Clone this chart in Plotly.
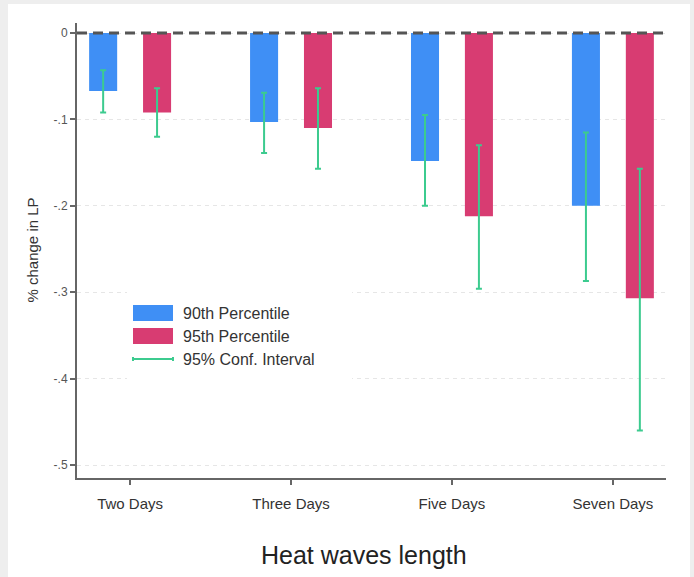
import plotly.graph_objects as go

# Heat-wave length categories
categories = ["Two Days", "Three Days", "Five Days", "Seven Days"]

# Point estimates (% change in LP)
p90_values = [-0.067, -0.103, -0.148, -0.200]
p95_values = [-0.092, -0.110, -0.212, -0.307]

# 95% confidence interval bounds
p90_ci_high = [-0.043, -0.069, -0.095, -0.115]
p90_ci_low = [-0.092, -0.139, -0.200, -0.287]
p95_ci_high = [-0.064, -0.064, -0.130, -0.157]
p95_ci_low = [-0.120, -0.157, -0.296, -0.460]

# Y-axis ticks
y_tickvals = [0, -0.1, -0.2, -0.3, -0.4, -0.5]
y_ticktext = ["0", "-.1", "-.2", "-.3", "-.4", "-.5"]

BLUE = "#3f8ff5"
RED = "#d83c72"
GREEN = "#3ccb8f"
FONT = "Liberation Sans, Arial, sans-serif"

W, H = 694, 577
ML, MR, MT, MB = 77, 28, 23, 99
PW, PH = W - ML - MR, H - MT - MB


def px_x(px):
    return (px - ML) / PW


def px_y(py):
    return (H - MB - py) / PH


xpos = list(range(len(categories)))


def err(values, hi, lo):
    return dict(
        type="data",
        symmetric=False,
        array=[h - v for h, v in zip(hi, values)],
        arrayminus=[v - l for v, l in zip(values, lo)],
        color=GREEN,
        thickness=2,
        width=3,
    )


fig = go.Figure()
fig.add_trace(go.Bar(
    x=xpos, y=p90_values, name="90th Percentile",
    marker=dict(color=BLUE, line=dict(width=0)),
    error_y=err(p90_values, p90_ci_high, p90_ci_low),
))
fig.add_trace(go.Bar(
    x=xpos, y=p95_values, name="95th Percentile",
    marker=dict(color=RED, line=dict(width=0)),
    error_y=err(p95_values, p95_ci_high, p95_ci_low),
))

shapes = []
# outer grey frame strips
shapes.append(dict(type="rect", xref="paper", yref="paper", layer="below",
                   x0=px_x(0), x1=px_x(8), y0=px_y(577), y1=px_y(0),
                   fillcolor="#eeeeee", line=dict(width=0)))
shapes.append(dict(type="rect", xref="paper", yref="paper", layer="below",
                   x0=px_x(0), x1=px_x(694), y0=px_y(4), y1=px_y(0),
                   fillcolor="#eeeeee", line=dict(width=0)))
shapes.append(dict(type="rect", xref="paper", yref="paper", layer="below",
                   x0=px_x(690), x1=px_x(694), y0=px_y(577), y1=px_y(0),
                   fillcolor="#eeeeee", line=dict(width=0)))
# dashed zero reference line
shapes.append(dict(type="line", xref="paper", yref="y", layer="above",
                   x0=0, x1=1, y0=0, y1=0,
                   line=dict(color="#555555", width=3, dash="10px,6px")))
# legend box
shapes.append(dict(type="rect", xref="paper", yref="paper", layer="above",
                   x0=px_x(127), x1=px_x(352), y0=px_y(380), y1=px_y(292),
                   fillcolor="white", line=dict(width=0)))
shapes.append(dict(type="rect", xref="paper", yref="paper", layer="above",
                   x0=px_x(133), x1=px_x(173), y0=px_y(321), y1=px_y(305),
                   fillcolor=BLUE, line=dict(width=0)))
shapes.append(dict(type="rect", xref="paper", yref="paper", layer="above",
                   x0=px_x(133), x1=px_x(173), y0=px_y(344), y1=px_y(328),
                   fillcolor=RED, line=dict(width=0)))
shapes.append(dict(type="line", xref="paper", yref="paper", layer="above",
                   x0=px_x(133), x1=px_x(173), y0=px_y(359), y1=px_y(359),
                   line=dict(color=GREEN, width=2)))
for cx in (133, 173):
    shapes.append(dict(type="line", xref="paper", yref="paper", layer="above",
                       x0=px_x(cx), x1=px_x(cx), y0=px_y(357), y1=px_y(361),
                       line=dict(color=GREEN, width=2)))

annotations = []
for label, py in zip(["90th Percentile", "95th Percentile", "95% Conf. Interval"],
                     [313, 336, 359]):
    annotations.append(dict(
        text=label, xref="paper", yref="paper", x=px_x(181), y=px_y(py),
        xanchor="left", yanchor="middle", showarrow=False,
        font=dict(family=FONT, size=16, color="#333333"),
    ))
annotations.append(dict(
    text="% change in LP", xref="paper", yref="paper", x=px_x(32), y=0.5,
    xanchor="center", yanchor="middle", textangle=-90, showarrow=False,
    font=dict(family=FONT, size=15, color="#333333"),
))
annotations.append(dict(
    text="Heat waves length", xref="paper", yref="paper", x=px_x(364), y=px_y(555),
    xanchor="center", yanchor="middle", showarrow=False,
    font=dict(family=FONT, size=25, color="#222222"),
))

fig.update_layout(
    width=W, height=H,
    margin=dict(l=ML, r=MR, t=MT, b=MB),
    paper_bgcolor="white", plot_bgcolor="white",
    barmode="group", bargap=0.33, bargroupgap=0.48,
    showlegend=False,
    shapes=shapes, annotations=annotations,
    font=dict(family=FONT, color="#333333"),
    xaxis=dict(
        range=[-0.33, 3.33], tickvals=xpos, ticktext=categories,
        showgrid=False, zeroline=False,
        showline=True, linecolor="#666666", linewidth=2,
        ticks="outside", ticklen=5, tickwidth=1.5, tickcolor="#666666",
        ticklabelstandoff=6,
        tickfont=dict(family=FONT, size=15, color="#333333"),
    ),
    yaxis=dict(
        range=[-0.515, 0.0116], tickvals=y_tickvals, ticktext=y_ticktext,
        showgrid=True, gridcolor="#e6e6e6", gridwidth=1, griddash="4px,4px",
        zeroline=False,
        showline=True, linecolor="#666666", linewidth=2,
        ticks="outside", ticklen=5, tickwidth=1.5, tickcolor="#666666",
        tickfont=dict(family=FONT, size=12, color="#555555"),
    ),
)

fig.write_html("out.html")
